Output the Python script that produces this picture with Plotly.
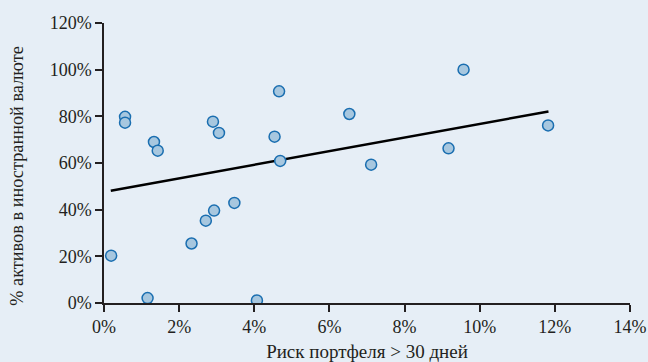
import plotly.graph_objects as go

# Data (percent)
risk_par30 = [0.19, 0.56, 0.56, 1.16, 1.33, 1.43, 2.33, 2.71, 2.93, 2.90, 3.06,
              3.47, 4.07, 4.66, 4.54, 4.69, 6.53, 7.11, 9.17, 9.57, 11.82]
fx_assets = [20.3, 79.8, 77.3, 2.1, 69.0, 65.3, 25.5, 35.3, 39.6, 77.7, 72.9,
             42.9, 1.1, 90.7, 71.3, 60.9, 81.0, 59.3, 66.3, 100.0, 76.1]

trend_x = [0.18, 11.83]
trend_y = [48.1, 82.1]

x_ticks = [0, 2, 4, 6, 8, 10, 12, 14]
y_ticks = [0, 20, 40, 60, 80, 100, 120]

BG = "#e6eef6"
INK = "#231f20"
FONT = "Liberation Serif"

fig = go.Figure()
fig.add_trace(go.Scatter(
    x=trend_x, y=trend_y, mode="lines",
    line=dict(color="black", width=2.5),
    hoverinfo="skip", showlegend=False,
))
fig.add_trace(go.Scatter(
    x=risk_par30, y=fx_assets, mode="markers",
    marker=dict(size=11, color="#a7c7df", line=dict(color="#1a6eb0", width=1.5)),
    showlegend=False,
))

fig.update_layout(
    width=648, height=362,
    margin=dict(l=104, r=18, t=23, b=59),
    paper_bgcolor=BG, plot_bgcolor=BG,
    font=dict(family=FONT, size=18, color=INK),
    xaxis=dict(
        range=[0, 14], tickvals=x_ticks, ticktext=[f"{v}%" for v in x_ticks],
        automargin=False,
        showgrid=False, zeroline=False,
        showline=True, linecolor=INK, linewidth=1.5,
        ticks="outside", ticklen=7, tickwidth=1.5, tickcolor=INK,
        tickfont=dict(family=FONT, size=18, color=INK),
        title=dict(text="Риск портфеля > 30 дней", font=dict(family=FONT, size=19, color=INK), standoff=8),
    ),
    yaxis=dict(
        range=[0, 120], tickvals=y_ticks, ticktext=[f"{v}%" for v in y_ticks],
        automargin=False,
        showgrid=False, zeroline=False,
        showline=True, linecolor=INK, linewidth=1.5,
        ticks="outside", ticklen=7, tickwidth=1.5, tickcolor=INK,
        tickfont=dict(family=FONT, size=18, color=INK),
    ),
    annotations=[dict(
        text="% активов в иностранной валюте",
        xref="paper", yref="paper", x=-0.1654, y=0.4546,
        xanchor="center", yanchor="middle", textangle=-90, showarrow=False,
        font=dict(family=FONT, size=18.3, color=INK),
    )],
)

fig.write_html("out.html")
